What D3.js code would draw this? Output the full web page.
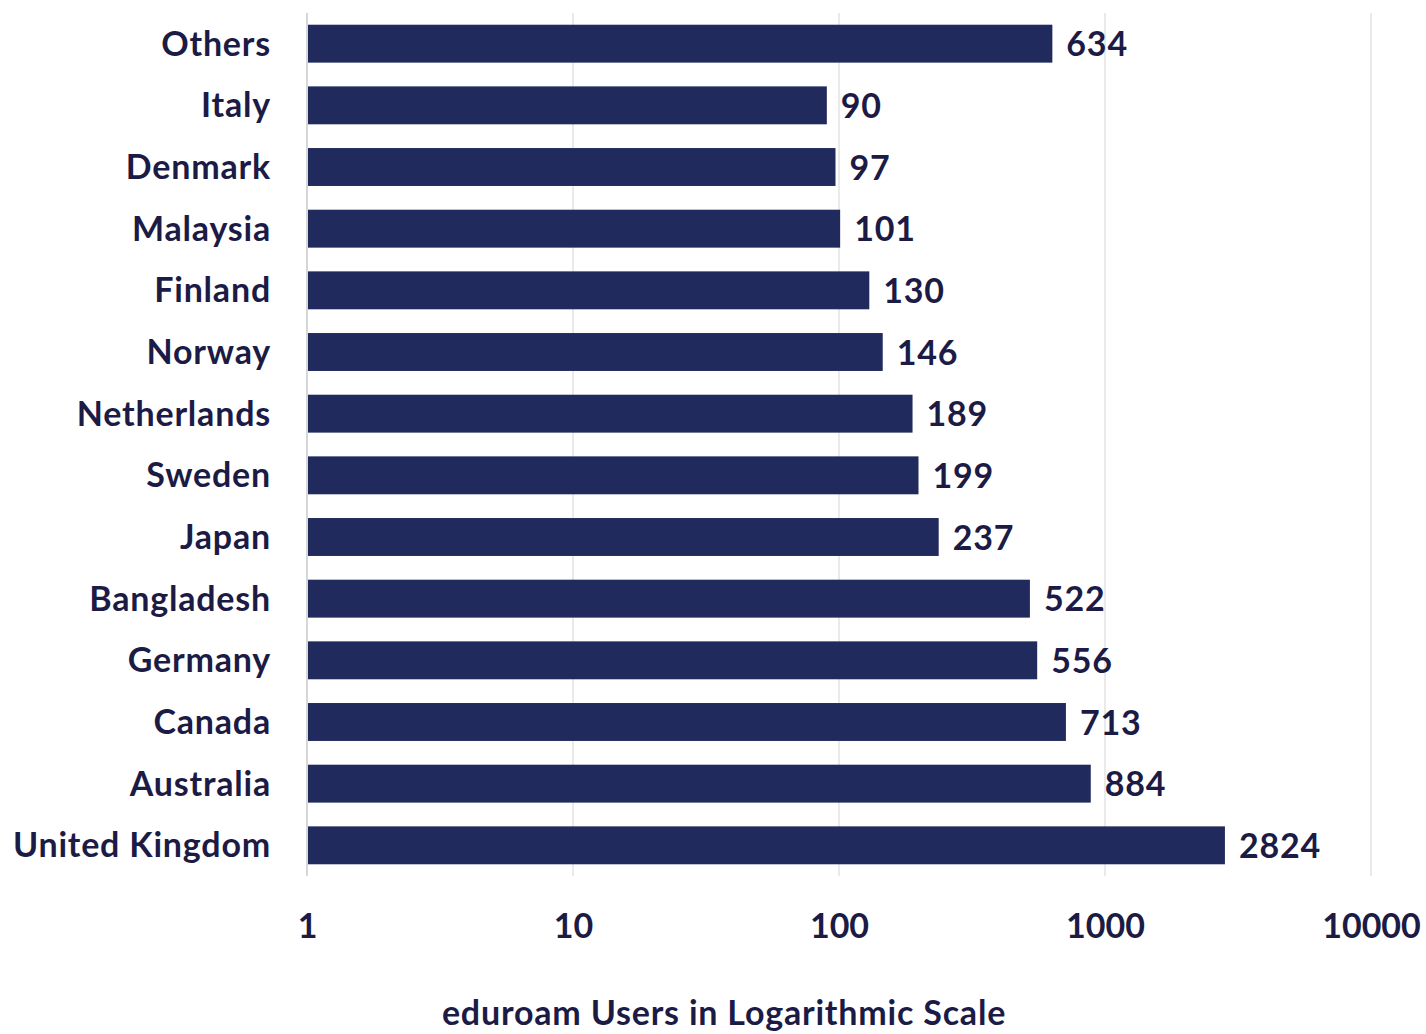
<!DOCTYPE html>
<html>
<head>
<meta charset="utf-8">
<script src="https://cdn.jsdelivr.net/npm/d3@7"></script>
<style>
  body { margin: 0; background: #fff; }
  text { font-family: Lato, "Open Sans", sans-serif; font-weight: 700; fill: #1b1b45; }
</style>
</head>
<body>
<svg id="chart" width="1426" height="1034"></svg>
<script>
// data, top to bottom
const countries = ["Others", "Italy", "Denmark", "Malaysia", "Finland", "Norway", "Netherlands",
  "Sweden", "Japan", "Bangladesh", "Germany", "Canada", "Australia", "United Kingdom"];
const users = [634, 90, 97, 101, 130, 146, 189, 199, 237, 522, 556, 713, 884, 2824];
const tickValues = [1, 10, 100, 1000, 10000];
const axisTitle = "eduroam Users in Logarithmic Scale";

const svg = d3.select("#chart");
const plotL = 307, plotR = 1371, plotT = 13, plotB = 876;

const x = d3.scaleLog().domain([1, 10000]).range([plotL, plotR]);
const y = d3.scaleBand().domain(countries).range([plotT, plotB]).paddingInner(0.385).paddingOuter(0.19);

// gridlines
svg.append("g").selectAll("line").data(tickValues).join("line")
    .attr("x1", d => x(d)).attr("x2", d => x(d))
    .attr("y1", plotT).attr("y2", plotB)
    .attr("stroke", "#e3e3e3").attr("stroke-width", 1.5);

// bars
svg.append("g").selectAll("rect").data(users).join("rect")
    .attr("x", x(1) + 1)
    .attr("y", (d, i) => y(countries[i]))
    .attr("width", d => x(d) - x(1) - 1)
    .attr("height", y.bandwidth())
    .attr("fill", "#212a5c");

// value labels
svg.append("g").selectAll("text").data(users).join("text")
    .attr("x", d => x(d) + 14)
    .attr("y", (d, i) => y(countries[i]) + y.bandwidth() / 2 + 4)
    .attr("dominant-baseline", "middle")
    .attr("font-size", 34)
    .attr("letter-spacing", 0.8)
    .text(d => d);

// category axis
const yAxis = svg.append("g").attr("transform", `translate(${plotL},0)`)
    .call(d3.axisLeft(y).tickSize(0).tickPadding(36));
yAxis.select(".domain").attr("stroke", "#d0d0d0").attr("stroke-width", 1.5)
    .attr("d", `M0,${plotT}V${plotB}`);
yAxis.selectAll("text").attr("font-size", 34).attr("letter-spacing", 0.8)
    .attr("dy", "0.35em").attr("font-family", null).attr("fill", null);

// value axis
const xAxis = svg.append("g").attr("transform", `translate(0,${plotB})`)
    .call(d3.axisBottom(x).tickValues(tickValues).tickFormat(d3.format("d")).tickSize(0).tickPadding(38));
xAxis.select(".domain").remove();
xAxis.selectAll("text").attr("font-size", 34).attr("font-family", null).attr("fill", null);

svg.append("text")
    .attr("x", 724).attr("y", 1025)
    .attr("text-anchor", "middle")
    .attr("font-size", 34)
    .attr("letter-spacing", 0.8)
    .text(axisTitle);
</script>
</body>
</html>
